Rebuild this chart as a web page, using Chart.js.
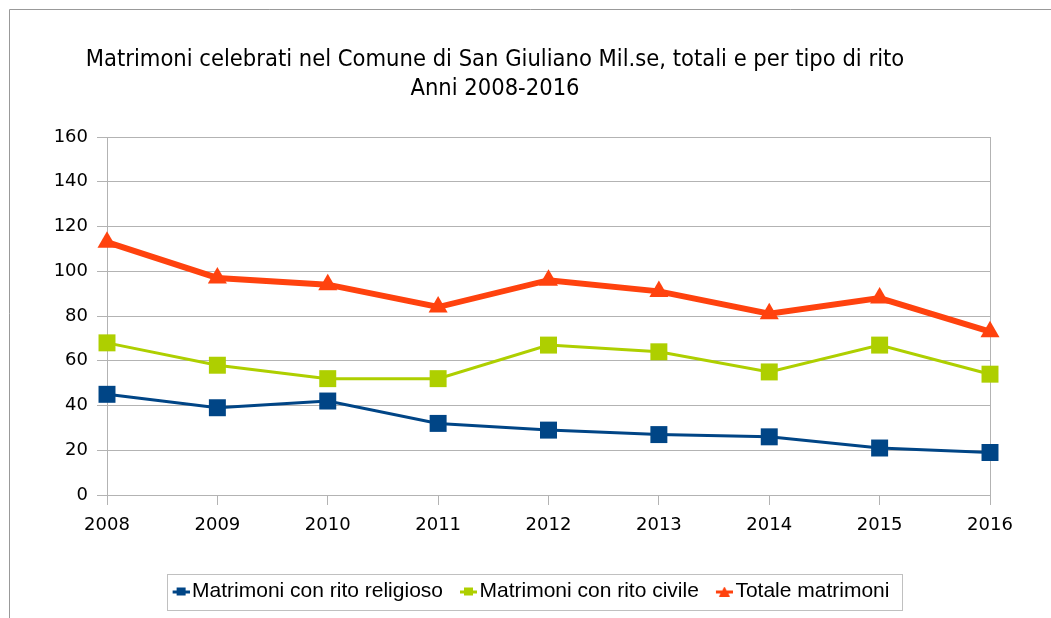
<!DOCTYPE html>
<html>
<head>
<meta charset="utf-8">
<script src="https://cdn.jsdelivr.net/npm/chart.js@4/dist/chart.umd.min.js"></script>
<style>
  html, body { margin: 0; padding: 0; background: #fff; }
  canvas { display: block; }
</style>
</head>
<body>
<canvas id="chart" width="1051" height="618"></canvas>
<script>
// data
var anni = ['2008', '2009', '2010', '2011', '2012', '2013', '2014', '2015', '2016'];
var religioso = [45, 39, 42, 32, 29, 27, 26, 21, 19];
var civile = [68, 58, 52, 52, 67, 64, 55, 67, 54];
var totale = [113, 97, 94, 84, 96, 91, 81, 88, 73];

var titleLines = ['Matrimoni celebrati nel Comune di San Giuliano Mil.se, totali e per tipo di rito', 'Anni 2008-2016'];

var BLU = '#004586', VERDE = '#aecf00', ARANCIO = '#ff420e';
var GRIGIO = '#b3b3b3';

// legend icons: short line with the marker in the middle (drawn in the right half of the canvas)
function legendIcon(color, shape) {
  var c = document.createElement('canvas');
  c.width = 32; c.height = 10;
  var g = c.getContext('2d');
  g.fillStyle = color;
  g.fillRect(15, 4, 17, 3);
  if (shape == 'rect') {
    g.fillRect(19, 1, 9, 8);
  } else {
    g.beginPath();
    g.moveTo(23.5, 0); g.lineTo(29, 10); g.lineTo(18, 10);
    g.closePath(); g.fill();
  }
  return c;
}
var icons = [legendIcon(BLU, 'rect'), legendIcon(VERDE, 'rect'), legendIcon(ARANCIO, 'tri')];

var framePlugin = {
  id: 'frame',
  beforeDraw: function(chart) {
    var ctx = chart.ctx;
    ctx.save();
    ctx.strokeStyle = '#999999';
    ctx.lineWidth = 1;
    ctx.beginPath();
    ctx.moveTo(9.5, 618); ctx.lineTo(9.5, 9.5); ctx.lineTo(1051, 9.5);
    ctx.stroke();
    // title
    ctx.fillStyle = '#000';
    ctx.font = '23.5px "DejaVu Sans Condensed"';
    ctx.textAlign = 'center';
    ctx.textBaseline = 'alphabetic';
    ctx.fillText(titleLines[0], 495, 66);
    ctx.fillText(titleLines[1], 495, 95);
    ctx.restore();
  },
  afterDraw: function(chart) {
    var boxes = chart.legend.legendHitBoxes;
    if (!boxes || !boxes.length) return;
    var last = boxes[boxes.length - 1];
    var x0 = boxes[0].left + 1, x1 = last.left + last.width + 12;
    var ctx = chart.ctx;
    ctx.save();
    ctx.strokeStyle = '#c0c0c0';
    ctx.lineWidth = 1;
    ctx.strokeRect(Math.round(x0) + 0.5, 574.5, Math.round(x1 - x0), 36);
    ctx.restore();
  }
};

var ctx = document.getElementById('chart').getContext('2d');
var chart = new Chart(ctx, {
  type: 'line',
  data: {
    labels: anni,
    datasets: [{
      label: 'Matrimoni con rito religioso',
      data: religioso,
      borderColor: BLU,
      backgroundColor: BLU,
      borderWidth: 3,
      pointStyle: 'rect',
      pointRadius: 12,
      pointBorderWidth: 0
    }, {
      label: 'Matrimoni con rito civile',
      data: civile,
      borderColor: VERDE,
      backgroundColor: VERDE,
      borderWidth: 3,
      pointStyle: 'rect',
      pointRadius: 12,
      pointBorderWidth: 0
    }, {
      label: 'Totale matrimoni',
      data: totale,
      borderColor: ARANCIO,
      backgroundColor: ARANCIO,
      borderWidth: 6,
      pointStyle: 'triangle',
      pointRadius: 11,
      pointBorderWidth: 0
    }]
  },
  options: {
    responsive: false,
    animation: false,
    devicePixelRatio: 1,
    layout: { padding: { left: 50, right: 46, top: 137, bottom: 6 } },
    plugins: {
      title: { display: false },
      tooltip: { enabled: false },
      legend: {
        position: 'bottom',
        labels: {
          usePointStyle: true,
          pointStyleWidth: 16,
          padding: 10,
          color: '#000',
          font: { family: '"Liberation Sans", Arial', size: 21 },
          generateLabels: function(chart) {
            var items = Chart.defaults.plugins.legend.labels.generateLabels(chart);
            items.forEach(function(it, i) { it.pointStyle = icons[i]; });
            return items;
          }
        }
      }
    },
    scales: {
      x: {
        offset: false,
        afterFit: function(s) { s.height = 76; },
        grid: {
          color: function(c) { return (c.index === 0 || c.index === anni.length - 1) ? GRIGIO : 'rgba(0,0,0,0)'; },
          tickColor: GRIGIO,
          tickLength: 10
        },
        border: { color: GRIGIO },
        ticks: { color: '#000', padding: 10, maxRotation: 0, font: { family: '"DejaVu Sans"', size: 18 } }
      },
      y: {
        min: 0,
        max: 160,
        afterFit: function(s) { s.width = 57; },
        grid: { color: GRIGIO, tickColor: GRIGIO, tickLength: 10 },
        border: { color: GRIGIO },
        ticks: { stepSize: 20, color: '#000', padding: 9, font: { family: '"DejaVu Sans"', size: 18 } }
      },
      // empty spacer on the right, only to centre the legend like the original
      spacer: {
        type: 'linear',
        position: 'right',
        min: 0,
        max: 160,
        afterFit: function(s) { s.width = 15; },
        grid: { display: false },
        border: { display: false },
        ticks: { display: false }
      }
    }
  },
  plugins: [framePlugin]
});
</script>
</body>
</html>
